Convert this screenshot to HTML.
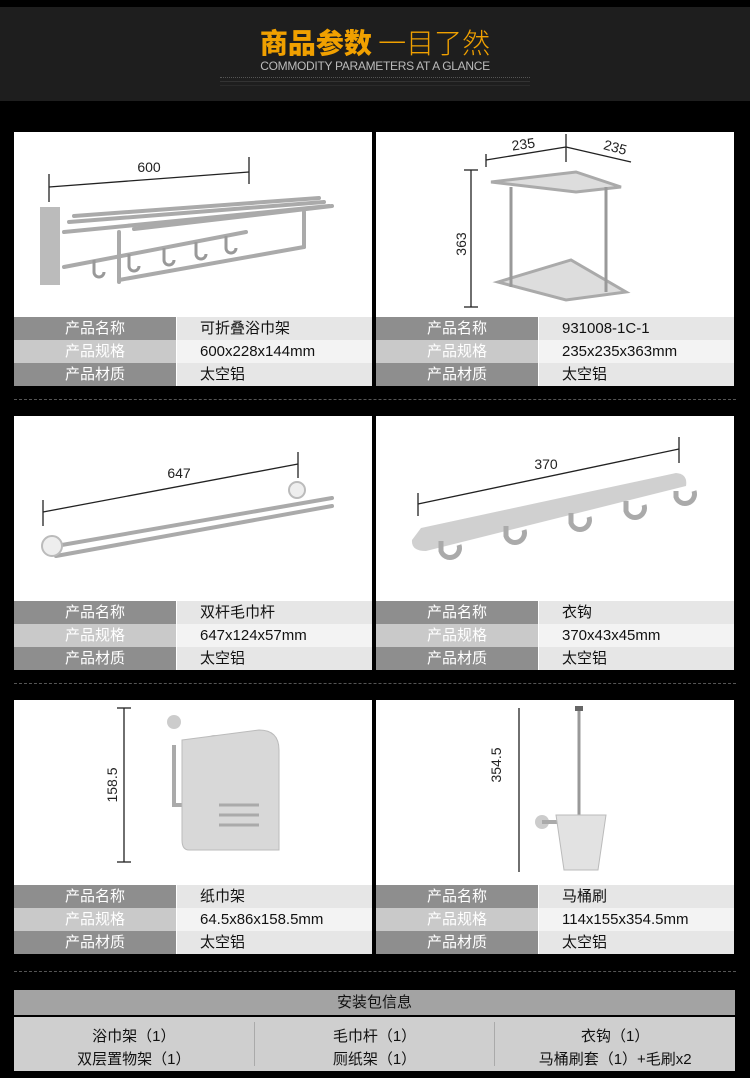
<!DOCTYPE html>
<html><head><meta charset="utf-8"><style>
*{margin:0;padding:0;box-sizing:border-box}
body{width:750px;height:1078px;background:#000;position:relative;overflow:hidden;font-family:"Liberation Sans","Noto Sans CJK SC",sans-serif}
.band{position:absolute;left:0;top:7px;width:750px;height:94px;background:#1e1e1e}
.t1{position:absolute;top:25px;left:0;width:750px;text-align:center;font-size:28px;color:#f0a000;font-family:"Noto Sans CJK SC",sans-serif;line-height:34px}
.t1 b{font-weight:900}.t1 span{font-weight:300}
.t2{position:absolute;top:59px;left:0;width:750px;text-align:center;font-size:12px;color:#bbb;letter-spacing:-0.3px}
.t3{position:absolute;top:77px;left:220px;width:310px;height:1px;border-top:1px dotted #555;box-shadow:0 4px 0 #333,0 8px 0 #2a2a2a}
.p{position:absolute;background:#fff;width:358px;height:254px}
.p svg{position:absolute;left:0;top:0}
.tb{position:absolute;left:0;top:185px;width:358px}
.r{height:23px;display:flex;font-size:15px;line-height:23px}
.r .l{width:162px;text-align:center;color:#fff}
.r .v{flex:1;padding-left:23px;color:#111;margin-left:1px}
.a .l{background:#8e8e8e}.a .v{background:#e6e6e6}
.b .l{background:#c9c9c9}.b .v{background:#f3f3f3}
.dash{position:absolute;left:14px;width:722px;border-top:1px dashed #555}
.bt{position:absolute;left:14px;top:990px;width:721px}
.bh{height:25px;background:#a3a3a3;text-align:center;font-size:15px;line-height:25px;color:#111}
.bb{margin-top:2px;height:54px;background:#cfcfcf;display:flex;font-size:15px;color:#111}
.bb div{flex:1;text-align:center;line-height:23px;padding-top:3px;border-left:1px solid #aaa;margin:5px 0}
.bb div:first-child{border-left:none}
</style></head><body>
<div class="band"></div>
<div class="t1"><b>商品参数</b> <span>一目了然</span></div>
<div class="t2">COMMODITY PARAMETERS AT A GLANCE</div>
<div class="t3"></div>

<div class="p" style="left:14px;top:132px">
<svg width="358" height="186"><g stroke="#222" stroke-width="1.3" fill="none">
<line x1="35" y1="42" x2="35" y2="70"/><line x1="235" y1="25" x2="235" y2="52"/><line x1="35" y1="55" x2="235" y2="40"/></g>
<text x="135" y="40" font-size="14" text-anchor="middle" fill="#222">600</text>
<g stroke="#aaa" stroke-width="4" fill="none" stroke-linecap="round">
<line x1="50" y1="100" x2="315" y2="74"/><line x1="55" y1="90" x2="310" y2="70"/><line x1="60" y1="84" x2="305" y2="66"/><line x1="120" y1="97" x2="318" y2="74"/>
<line x1="105" y1="148" x2="290" y2="115"/><line x1="105" y1="100" x2="105" y2="150"/><line x1="290" y1="80" x2="290" y2="115"/>
<line x1="50" y1="135" x2="232" y2="100"/></g>
<rect x="26" y="75" width="20" height="78" fill="#bbb"/>
<g stroke="#999" stroke-width="3" fill="none"><path d="M80 128 v12 a5 5 0 0 0 10 0"/><path d="M115 122 v12 a5 5 0 0 0 10 0"/><path d="M150 116 v12 a5 5 0 0 0 10 0"/><path d="M182 110 v12 a5 5 0 0 0 10 0"/><path d="M212 104 v12 a5 5 0 0 0 10 0"/></g>
</svg>
<div class="tb"><div class="r a"><div class="l">产品名称</div><div class="v">可折叠浴巾架</div></div><div class="r b"><div class="l">产品规格</div><div class="v">600x228x144mm</div></div><div class="r a"><div class="l">产品材质</div><div class="v">太空铝</div></div></div>
</div>
<div class="p" style="left:376px;top:132px">
<svg width="358" height="186"><g stroke="#222" stroke-width="1.3" fill="none">
<line x1="110" y1="22" x2="110" y2="35"/><line x1="190" y1="2" x2="190" y2="30"/><line x1="110" y1="28" x2="190" y2="15"/><line x1="190" y1="15" x2="255" y2="30"/>
<line x1="95" y1="38" x2="95" y2="175"/><line x1="88" y1="38" x2="102" y2="38"/><line x1="88" y1="175" x2="102" y2="175"/></g>
<text x="148" y="17" font-size="14" text-anchor="middle" fill="#222" transform="rotate(-8 148 17)">235</text>
<text x="238" y="20" font-size="14" text-anchor="middle" fill="#222" transform="rotate(15 238 20)">235</text>
<text x="90" y="112" font-size="14" text-anchor="middle" fill="#222" transform="rotate(-90 90 112)">363</text>
<g stroke="#aaa" stroke-width="3" fill="#ddd"><path d="M115 50 L200 40 L245 55 L200 60 Z"/><path d="M122 150 L195 128 L250 160 L190 168 Z"/></g>
<g stroke="#999" stroke-width="3"><line x1="135" y1="55" x2="135" y2="155"/><line x1="230" y1="55" x2="230" y2="160"/></g>
</svg>
<div class="tb"><div class="r a"><div class="l">产品名称</div><div class="v">931008-1C-1</div></div><div class="r b"><div class="l">产品规格</div><div class="v">235x235x363mm</div></div><div class="r a"><div class="l">产品材质</div><div class="v">太空铝</div></div></div>
</div>
<div class="dash" style="top:399px"></div>

<div class="p" style="left:14px;top:416px">
<svg width="358" height="186"><g stroke="#222" stroke-width="1.3" fill="none">
<line x1="29" y1="84" x2="29" y2="110"/><line x1="284" y1="36" x2="284" y2="62"/><line x1="29" y1="96" x2="284" y2="48"/></g>
<text x="165" y="62" font-size="14" text-anchor="middle" fill="#222">647</text>
<g stroke="#aaa" stroke-width="4" stroke-linecap="round"><line x1="42" y1="130" x2="318" y2="82"/><line x1="42" y1="140" x2="318" y2="90"/></g>
<circle cx="38" cy="130" r="10" fill="#eee" stroke="#bbb" stroke-width="2"/><circle cx="283" cy="74" r="8" fill="#eee" stroke="#bbb" stroke-width="2"/>
</svg>
<div class="tb"><div class="r a"><div class="l">产品名称</div><div class="v">双杆毛巾杆</div></div><div class="r b"><div class="l">产品规格</div><div class="v">647x124x57mm</div></div><div class="r a"><div class="l">产品材质</div><div class="v">太空铝</div></div></div>
</div>
<div class="p" style="left:376px;top:416px">
<svg width="358" height="186"><g stroke="#222" stroke-width="1.3" fill="none">
<line x1="42" y1="77" x2="42" y2="100"/><line x1="303" y1="21" x2="303" y2="47"/><line x1="42" y1="88" x2="303" y2="33"/></g>
<text x="170" y="53" font-size="14" text-anchor="middle" fill="#222">370</text>
<path d="M45 112 L300 57 Q312 58 310 70 L50 135 Q35 135 36 124 Z" fill="#d0d0d0"/>
<g stroke="#aaa" stroke-width="5" fill="none"><path d="M65 125 v10 a9 9 0 0 0 18 -6"/><path d="M130 110 v10 a9 9 0 0 0 18 -6"/><path d="M195 97 v10 a9 9 0 0 0 18 -6"/><path d="M250 85 v10 a9 9 0 0 0 18 -6"/><path d="M300 75 v6 a9 9 0 0 0 18 -6"/></g>
</svg>
<div class="tb"><div class="r a"><div class="l">产品名称</div><div class="v">衣钩</div></div><div class="r b"><div class="l">产品规格</div><div class="v">370x43x45mm</div></div><div class="r a"><div class="l">产品材质</div><div class="v">太空铝</div></div></div>
</div>
<div class="dash" style="top:683px"></div>

<div class="p" style="left:14px;top:700px">
<svg width="358" height="186"><g stroke="#222" stroke-width="1.3" fill="none">
<line x1="110" y1="8" x2="110" y2="162"/><line x1="103" y1="8" x2="117" y2="8"/><line x1="103" y1="162" x2="117" y2="162"/></g>
<text x="103" y="85" font-size="14" text-anchor="middle" fill="#222" transform="rotate(-90 103 85)">158.5</text>
<circle cx="160" cy="22" r="7" fill="#ccc"/><circle cx="200" cy="42" r="7" fill="#ccc"/>
<path d="M160 45 v60 h20" stroke="#aaa" stroke-width="4" fill="none"/>
<path d="M168 40 L245 30 Q265 30 265 50 L265 150 L175 150 Q168 150 168 140 Z" fill="#d8d8d8" stroke="#bbb"/>
<path d="M205 105 h40 M205 115 h40 M205 125 h40" stroke="#aaa" stroke-width="3"/>
</svg>
<div class="tb"><div class="r a"><div class="l">产品名称</div><div class="v">纸巾架</div></div><div class="r b"><div class="l">产品规格</div><div class="v">64.5x86x158.5mm</div></div><div class="r a"><div class="l">产品材质</div><div class="v">太空铝</div></div></div>
</div>
<div class="p" style="left:376px;top:700px">
<svg width="358" height="186"><g stroke="#222" stroke-width="1.3" fill="none">
<line x1="143" y1="8" x2="143" y2="172"/></g>
<text x="125" y="65" font-size="14" text-anchor="middle" fill="#222" transform="rotate(-90 125 65)">354.5</text>
<line x1="203" y1="8" x2="203" y2="115" stroke="#999" stroke-width="3"/>
<rect x="199" y="6" width="8" height="5" fill="#666"/>
<circle cx="166" cy="122" r="7" fill="#ccc"/><line x1="166" y1="122" x2="182" y2="122" stroke="#aaa" stroke-width="4"/>
<path d="M180 115 h50 l-8 55 h-34 z" fill="#e2e2e2" stroke="#bbb"/>
</svg>
<div class="tb"><div class="r a"><div class="l">产品名称</div><div class="v">马桶刷</div></div><div class="r b"><div class="l">产品规格</div><div class="v">114x155x354.5mm</div></div><div class="r a"><div class="l">产品材质</div><div class="v">太空铝</div></div></div>
</div>
<div class="dash" style="top:971px"></div>

<div class="bt"><div class="bh">安装包信息</div>
<div class="bb"><div>浴巾架（1）<br>双层置物架（1）</div><div>毛巾杆（1）<br>厕纸架（1）</div><div>衣钩（1）<br>马桶刷套（1）+毛刷x2</div></div></div>
</body></html>
